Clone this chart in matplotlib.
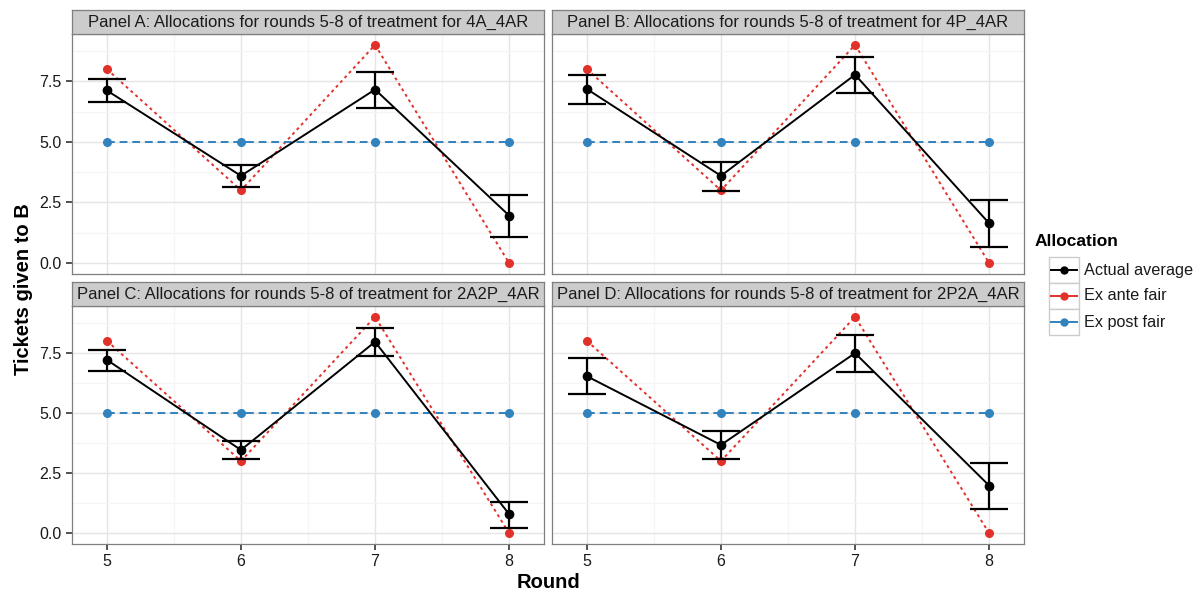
import numpy as np
import matplotlib
matplotlib.use("Agg")
import matplotlib.pyplot as plt
from matplotlib.patches import Rectangle
from matplotlib.lines import Line2D

plt.rcParams['font.family'] = ['Liberation Sans', 'DejaVu Sans']

rounds = [5, 6, 7, 8]
panels = ["Panel A: Allocations for rounds 5-8 of treatment for 4A_4AR",
          "Panel B: Allocations for rounds 5-8 of treatment for 4P_4AR",
          "Panel C: Allocations for rounds 5-8 of treatment for 2A2P_4AR",
          "Panel D: Allocations for rounds 5-8 of treatment for 2P2A_4AR"]

# actual average and error bar bounds per panel
actual = [[7.12, 3.60, 7.16, 1.96],
          [7.18, 3.60, 7.77, 1.64],
          [7.21, 3.46, 7.96, 0.79],
          [6.53, 3.67, 7.49, 1.98]]
upper = [[7.59, 4.04, 7.89, 2.81],
         [7.77, 4.19, 8.51, 2.60],
         [7.64, 3.85, 8.54, 1.31],
         [7.30, 4.25, 8.24, 2.94]]
lower = [[6.64, 3.15, 6.40, 1.09],
         [6.58, 2.99, 7.02, 0.67],
         [6.76, 3.07, 7.38, 0.20],
         [5.77, 3.09, 6.71, 1.02]]
ex_ante = [8, 3, 9, 0]
ex_post = [5, 5, 5, 5]

labels = ["Actual average", "Ex ante fair", "Ex post fair"]
c_black, c_red, c_blue = "black", "#E2302A", "#3182BD"

W, H = 1196, 591
fig = plt.figure(figsize=(W / 100, H / 100), dpi=100)

# panel boxes in pixels
cols = [(72, 544), (552, 1024)]
rows = [(10, 34, 274), (282, 306, 544)]

def fx(px):
    return px / W

def fy(py):
    return 1 - py / H

for i in range(4):
    l, r = cols[i % 2]
    st, pt, pb = rows[i // 2]
    ax = fig.add_axes([fx(l), fy(pb), fx(r - l), (pb - pt) / H])
    sax = fig.add_axes([fx(l), fy(pt), fx(r - l), (pt - st) / H])
    sax.set_xticks([]); sax.set_yticks([])
    sax.set_facecolor("#CCCCCC")
    for s in sax.spines.values():
        s.set_color("#7F7F7F"); s.set_linewidth(0.9)
    sax.text(0.5, 0.5, panels[i], ha="center", va="center", fontsize=12, color="#1A1A1A",
             transform=sax.transAxes)

    ax.set_xlim(4.74, 8.26)
    ax.set_ylim(-0.45, 9.45)
    ax.set_xticks(rounds)
    ax.set_yticks([0, 2.5, 5, 7.5])
    ax.set_xticks([5.5, 6.5, 7.5], minor=True)
    ax.set_yticks([1.25, 3.75, 6.25, 8.75], minor=True)
    ax.grid(which="major", color="#E5E5E5", lw=1.0)
    ax.grid(which="minor", color="#F5F5F5", lw=1.0)
    ax.set_axisbelow(True)
    for s in ax.spines.values():
        s.set_color("#7F7F7F"); s.set_linewidth(0.9)
    ax.tick_params(which="minor", length=0)
    ax.tick_params(which="major", length=4, width=1.2, color="#333333", labelsize=11.5,
                   labelcolor="#1A1A1A")
    if i % 2 == 1:
        ax.tick_params(axis="y", labelleft=False, length=0)
    else:
        ax.set_yticklabels(["0.0", "2.5", "5.0", "7.5"])
    if i // 2 == 0:
        ax.tick_params(axis="x", labelbottom=False, length=0)

    ax.plot(rounds, ex_ante, color=c_red, ls=(0, (1.5, 1.8)), lw=1.4, marker="o", ms=5.5, zorder=3)
    ax.plot(rounds, ex_post, color=c_blue, ls=(0, (4, 2.5)), lw=1.4, marker="o", ms=5.5, zorder=3)
    a = np.array(actual[i]); u = np.array(upper[i]); lo = np.array(lower[i])
    ax.errorbar(rounds, a, yerr=[a - lo, u - a], fmt="none", ecolor=c_black, elinewidth=1.6,
                capsize=13.5, capthick=1.6, zorder=4)
    ax.plot(rounds, a, color=c_black, lw=1.4, marker="o", ms=6, zorder=5)

fig.text(fx(548), fy(582), "Round", ha="center", va="center", fontsize=14.5, fontweight="bold")
fig.text(fx(24), fy(289), "Tickets given to B", ha="center", va="center", rotation=90,
         fontsize=14.5, fontweight="bold")

# legend
fig.text(fx(1035), fy(242), "Allocation", ha="left", va="center", fontsize=12.5, fontweight="bold")
key_cols = [c_black, c_red, c_blue]
for k, lab in enumerate(labels):
    top = 257 + k * 26
    fig.add_artist(Rectangle((fx(1049), fy(top + 26)), fx(30), 26 / H, transform=fig.transFigure,
                             facecolor="white", edgecolor="#CCCCCC", lw=1.0))
    yc = fy(top + 13)
    fig.add_artist(Line2D([fx(1051), fx(1077)], [yc, yc], transform=fig.transFigure,
                          color=key_cols[k], lw=1.4))
    fig.add_artist(Line2D([fx(1064)], [yc], transform=fig.transFigure, color=key_cols[k],
                          marker="o", ms=5))
    fig.text(fx(1084), yc, lab, ha="left", va="center", fontsize=11.7, color="#1A1A1A")

fig.savefig("out.png", dpi=100)
